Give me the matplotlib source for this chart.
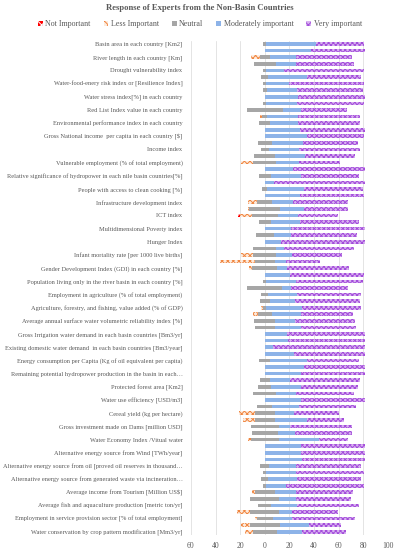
import matplotlib
matplotlib.use("Agg")
import matplotlib.pyplot as plt
import numpy as np
from matplotlib.patches import Patch
from matplotlib.ticker import FuncFormatter

plt.rcParams['font.family'] = ['Liberation Serif', 'DejaVu Serif']
plt.rcParams['hatch.linewidth'] = 0.7

# labels shown on every second row (top to bottom)
labels = [
    "Basin area in each country [Km2]",
    "River length in each country [Km]",
    "Drought vulnerability index",
    "Water-food-enery risk index or [Resilience Index]",
    "Water stress index[%] in each country",
    "Red List Index value in each country",
    "Environmental performance index in each country",
    "Gross National income  per capita in each country [$]",
    "Income index",
    "Vulnerable employment (% of total employment)",
    "Relative significance of hydropower in each nile basin countries[%]",
    "People with access to clean cooking [%]",
    "Infrastructure development index",
    "ICT index",
    "Multidimensional Poverty index",
    "Hunger Index",
    "Infant mortality rate [per 1000 live births]",
    "Gender Development Index (GDI) in each country [%]",
    "Population living only in the river basin in each country [%]",
    "Employment in agriculture (% of total employment)",
    "Agriculture, forestry, and fishing, value added (% of GDP)",
    "Average annual surface water volumetric reliability index [%]",
    "Gross Irrigation water demand in each basin countries [Bm3/yr]",
    "Existing domestic water demand  in each basin countries [Bm3/year]",
    "Energy consumption per Capita (Kg of oil equivalent per capita)",
    "Remaining potential hydropower production in the basin in each\u2026",
    "Protected forest area [Km2]",
    "Water use efficiency [USD/m3]",
    "Cereal yield (kg per hectare)",
    "Gross investment made on Dams [million USD]",
    "Water Economy Index /Vitual water",
    "Alternative energy source from Wind [TWh/year]",
    "Alternative energy source from oil [proved oil reserves in thousand\u2026",
    "Alternative energy source from generated waste via incineration\u2026",
    "Average income from Tourism [Million US$]",
    "Average fish and aquaculture production [metric ton/yr]",
    "Employment in service provision sector [% of total employment]",
    "Water conservation by crop pattern modification [Mm3/yr]",
]

# 75 indicators, top to bottom
not_imp = [0] * 75
not_imp[26] = 1.6

less_imp = [0] * 75
for i, v in {2: 6.8, 11: 1.9, 18: 10, 24: 7.3, 25: 1.4, 26: 9.7, 32: 9.5, 33: 28.4,
             34: 3, 40: 1.4, 41: 3.5, 55: 0.8, 56: 12.7, 57: 9.5, 60: 2.7, 68: 2.2,
             71: 10.8, 72: 1.4, 73: 7.3, 74: 6.2}.items():
    less_imp[i] = v

neutral = [2.7, 0, 8.6, 18.1, 2.2, 5.9, 2.7, 3.2, 0, 2.2,
           29.7, 3.8, 8.9, 0, 0, 11.4, 6.5, 17.3, 18.9, 0,
           9.7, 0, 3.8, 0, 12.4, 24.9, 21.1, 9.5, 0, 14.1,
           0, 18.9, 18.9, 16.2, 20, 0, 2.7, 28.4, 5.4, 7.6,
           2.7, 11.4, 17.3, 15.7, 0, 0, 0, 0, 9.2, 0,
           0, 8.1, 10.8, 18.4, 0, 11.9, 16.2, 16.2, 22.2, 21.6,
           22.2, 0, 0, 0, 7.3, 2.7, 5.4, 2.7, 15.7, 23.8,
           10.8, 23.8, 13.5, 24.3, 19.5]

moderate = [40.5, 37.8, 20.8, 16.2, 14.6, 31.1, 18.4, 24.6, 27, 24.6,
            14.9, 24.9, 22.2, 28.9, 34.3, 25.1, 24.6, 23.8, 18.1, 23,
            24.3, 7.6, 30, 28.9, 16.8, 19.7, 16.2, 23.8, 21.6, 14.3,
            13, 6.5, 13, 8.9, 7.6, 20.3, 23.8, 7, 23.8, 20.3,
            29.2, 23.8, 15.7, 21.4, 18.1, 19, 7, 24, 29.7, 31.9,
            29.7, 16.2, 23.8, 15.9, 29.7, 21.9, 15.7, 26.2, 9.5, 13.5,
            33.2, 29.2, 29.2, 30.5, 21.9, 24.3, 23, 15.7, 17.6, 13.5,
            20.3, 10.5, 14.9, 23.8, 20.8]

very = [38.6, 43.2, 45.4, 47.3, 64.6, 44.1, 60.5, 53.8, 54, 54.6,
        37, 50.8, 50.3, 52.2, 46.2, 44.6, 49.5, 40.5, 33.8, 58.1,
        47, 73.5, 47.8, 51.6, 44.6, 35.7, 32.4, 48.1, 59.5, 53.2,
        68.1, 56.8, 40.3, 28.1, 50.5, 60.3, 54.9, 45.9, 51.9, 53.2,
        47.8, 42.4, 48.6, 44.6, 63, 62, 74, 57, 41.9, 49.2,
        51.4, 56.8, 46.5, 47.3, 51.4, 46.5, 36.5, 29.7, 50, 46.5,
        23, 51.9, 51.9, 50.5, 52.2, 54.6, 52.7, 63.2, 45.9, 44.3,
        50.5, 36.8, 51.9, 25.7, 35.4]

ni = np.array(not_imp, float)
li = np.array(less_imp, float)
ne = np.array(neutral, float)
mi = np.array(moderate, float)
vi = np.array(very, float)
y = np.arange(len(ne))

txt = '#595959'
c_red, c_gray, c_blue = '#FF0000', '#A6A6A6', '#8DB3E8'
org_face, org_hatch = '#FDEBDD', '#F0853F'
purp_face, purp_hatch = '#D8B2F0', '#A34CDB'

fig = plt.figure(figsize=(3.96, 5.5), dpi=100)
ax = fig.add_axes([0.482, 0.027, 0.498, 0.899])

h = 0.55
ax.barh(y, ni, left=-(ne / 2 + li + ni), height=h, color=c_red, edgecolor='white', hatch='xxxxx', lw=0)
ax.barh(y, li, left=-(ne / 2 + li), height=h, color=org_face, edgecolor=org_hatch, hatch='xxxxxx', lw=0)
ax.barh(y, ne, left=-ne / 2, height=h, color=c_gray, lw=0)
ax.barh(y, mi, left=ne / 2, height=h, color=c_blue, lw=0)
ax.barh(y, vi, left=ne / 2 + mi, height=h, color=purp_face, edgecolor=purp_hatch, hatch='xxxxxxx', lw=0)

ax.set_xlim(-60, 100)
ax.set_ylim(len(ne) - 0.5, -0.5)
ax.set_xticks(np.arange(-60, 101, 20))
ax.xaxis.set_major_formatter(FuncFormatter(lambda v, p: f"{abs(v):.0f}"))
ax.set_yticks(y[::2])
ax.set_yticklabels(labels)
ax.tick_params(axis='y', length=0, pad=6, labelsize=4.6, labelcolor=txt)
ax.tick_params(axis='x', length=0, pad=5, labelsize=5.5, labelcolor=txt)
ax.grid(axis='x', color='#D9D9D9', lw=0.5)
ax.set_axisbelow(True)
for s in ax.spines.values():
    s.set_visible(False)

fig.text(0.505, 0.985, "Response of Experts from the Non-Basin Countries", ha='center', va='center',
         fontsize=6.2, fontweight='bold', color=txt)

handles = [
    Patch(facecolor=c_red, edgecolor='white', hatch='xxxx', lw=0, label='Not Important'),
    Patch(facecolor=org_face, edgecolor=org_hatch, hatch='xxxx', lw=0, label='Less Important'),
    Patch(facecolor=c_gray, lw=0, label='Neutral'),
    Patch(facecolor=c_blue, lw=0, label='Moderately important'),
    Patch(facecolor=purp_face, edgecolor=purp_hatch, hatch='xxxx', lw=0, label='Very important'),
]
leg = fig.legend(handles=handles, loc='center', bbox_to_anchor=(0.505, 0.956), ncol=5, frameon=False,
                 fontsize=5.8, handlelength=0.6, handleheight=0.6, handletextpad=0.3, columnspacing=1.6)
for t in leg.get_texts():
    t.set_color(txt)

fig.savefig('out.png', dpi=100)
